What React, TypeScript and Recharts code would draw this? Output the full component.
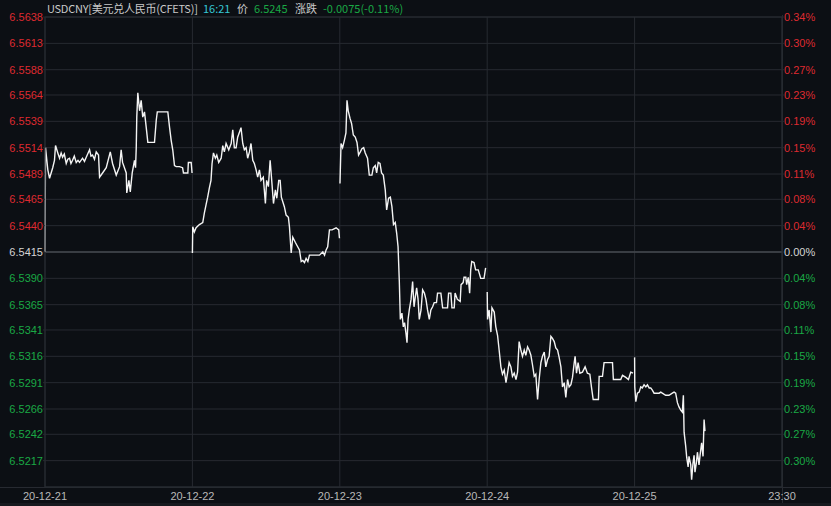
import { LineChart, Line, XAxis, YAxis, CartesianGrid, ReferenceLine } from "recharts";

const BG = "#0c0f14";
const GRID = "#272a31";
const RED = "#de2a30";
const GREEN = "#1aa845";
const NEUTRAL = "#d4d4d4";

// reference price (0.00%) and one gridline step
const BASE = 6.5415;
const STEP = 0.002478;
const SESSION = 840; // 09:30 - 23:30 in minutes

const PRICE_TICKS = [
  6.5638, 6.5613, 6.5588, 6.5564, 6.5539, 6.5514, 6.5489, 6.5465, 6.544, 6.5415,
  6.539, 6.5365, 6.5341, 6.5316, 6.5291, 6.5266, 6.5242, 6.5217,
];
const PCT_LABELS = [
  "0.34%", "0.30%", "0.27%", "0.23%", "0.19%", "0.15%", "0.11%", "0.08%", "0.04%", "0.00%",
  "0.04%", "0.08%", "0.11%", "0.15%", "0.19%", "0.23%", "0.27%", "0.30%",
];
const DAY_TICKS = [0, 1, 2, 3, 4, 5];
const DAY_LABELS = ["20-12-21", "20-12-22", "20-12-23", "20-12-24", "20-12-25", "23:30"];

// [minutes since open, price]
const DAY1: [number, number][] = [
  [0, 6.5415], [3, 6.5514], [16, 6.5493], [26, 6.5485], [35, 6.549], [44, 6.5495], [54, 6.5502],
  [60, 6.5516], [73, 6.5509], [83, 6.5504], [92, 6.5509], [100, 6.5505], [110, 6.5508], [121, 6.5499],
  [130, 6.5503], [140, 6.5504], [148, 6.5499], [157, 6.5502], [167, 6.5506], [178, 6.55], [188, 6.5502],
  [197, 6.55], [214, 6.5504], [225, 6.5501], [235, 6.5505], [254, 6.5512], [262, 6.5506], [271, 6.5507],
  [282, 6.5503], [292, 6.551], [305, 6.5507], [311, 6.5486], [328, 6.549], [349, 6.5495], [372, 6.551],
  [385, 6.5499], [406, 6.5488], [425, 6.5496], [434, 6.5512], [442, 6.55], [463, 6.549], [466, 6.5471],
  [478, 6.5483], [486, 6.5472], [497, 6.549], [510, 6.5502], [516, 6.5495], [520, 6.5514], [523, 6.5543],
  [529, 6.5566], [539, 6.5549], [548, 6.5559], [557, 6.5543], [567, 6.5548], [577, 6.5533], [586, 6.5519],
  [624, 6.5519], [634, 6.554], [640, 6.5548], [700, 6.5548], [710, 6.5533], [719, 6.5521], [728, 6.5512],
  [738, 6.5497], [748, 6.5496], [766, 6.5496], [784, 6.5495], [789, 6.549], [814, 6.549], [817, 6.55],
  [833, 6.55], [838, 6.549],
];
const DAY2: [number, number][] = [
  [0, 6.5414], [2, 6.5439], [11, 6.5434], [21, 6.5438], [40, 6.5441], [59, 6.5443], [68, 6.5452],
  [78, 6.546], [87, 6.5467], [97, 6.5476], [106, 6.5483], [112, 6.5499], [120, 6.5509], [131, 6.5504],
  [139, 6.5507], [150, 6.55], [164, 6.5504], [173, 6.5516], [182, 6.551], [192, 6.5518], [207, 6.5512],
  [221, 6.5518], [230, 6.5531], [239, 6.5514], [249, 6.5514], [258, 6.5524], [277, 6.5533], [287, 6.5518],
  [296, 6.5512], [306, 6.5514], [315, 6.5504], [325, 6.551], [334, 6.5518], [344, 6.5502], [353, 6.5499],
  [363, 6.5493], [372, 6.5486], [382, 6.5493], [391, 6.5483], [404, 6.5486], [416, 6.5461], [423, 6.5483],
  [433, 6.5477], [443, 6.5502], [452, 6.5483], [462, 6.5461], [473, 6.5474], [481, 6.5466], [492, 6.5483],
  [500, 6.5483], [507, 6.5467], [524, 6.5458], [534, 6.545], [547, 6.5448], [553, 6.5439], [563, 6.5414],
  [572, 6.5429], [587, 6.5424], [600, 6.542], [610, 6.5417], [620, 6.5406], [629, 6.5407], [639, 6.5405],
  [648, 6.5409], [658, 6.5406], [667, 6.5412], [686, 6.5412], [705, 6.5412], [724, 6.5412], [743, 6.5415],
  [753, 6.5412], [762, 6.5417], [771, 6.542], [781, 6.5436], [796, 6.5436], [819, 6.5438], [834, 6.5436],
  [838, 6.5428],
];
const DAY3: [number, number][] = [
  [1, 6.548], [7, 6.5518], [16, 6.5514], [26, 6.5521], [35, 6.5528], [41, 6.5559], [48, 6.5549],
  [58, 6.5542], [67, 6.5537], [77, 6.5526], [88, 6.5524], [98, 6.5519], [107, 6.5507], [117, 6.551],
  [126, 6.5513], [136, 6.5514], [145, 6.5509], [158, 6.5504], [168, 6.5488], [183, 6.5488], [191, 6.5495],
  [202, 6.5497], [210, 6.549], [219, 6.55], [229, 6.5499], [238, 6.549], [248, 6.5488], [259, 6.5474],
  [267, 6.5455], [278, 6.5466], [288, 6.5467], [297, 6.5458], [306, 6.5441], [316, 6.5443], [324, 6.5433],
  [332, 6.542], [339, 6.5388], [345, 6.5351], [354, 6.5357], [362, 6.5344], [369, 6.5348], [377, 6.5338],
  [383, 6.5329], [389, 6.5351], [396, 6.536], [406, 6.537], [415, 6.5387], [423, 6.5363], [430, 6.5372],
  [438, 6.5381], [446, 6.537], [453, 6.5351], [463, 6.536], [472, 6.5379], [482, 6.5376], [491, 6.537],
  [500, 6.536], [510, 6.5351], [519, 6.536], [529, 6.5363], [538, 6.5367], [551, 6.5367], [557, 6.5376],
  [576, 6.5376], [586, 6.5362], [614, 6.5362], [620, 6.5376], [633, 6.5376], [639, 6.5362], [652, 6.5362],
  [657, 6.5376], [670, 6.537], [686, 6.5368], [691, 6.5384], [703, 6.5386], [708, 6.5391], [718, 6.5391],
  [723, 6.5384], [732, 6.5391], [740, 6.5376], [746, 6.5398], [752, 6.5406], [765, 6.5405], [774, 6.5398],
  [789, 6.5398], [803, 6.539], [822, 6.539], [831, 6.54],
];
const DAY4: [number, number][] = [
  [0, 6.5377], [2, 6.5351], [11, 6.536], [21, 6.5339], [27, 6.5362], [40, 6.5358], [49, 6.5344],
  [59, 6.5336], [68, 6.5322], [78, 6.5306], [87, 6.5299], [97, 6.5303], [107, 6.5291], [116, 6.53],
  [125, 6.531], [135, 6.5306], [144, 6.5297], [154, 6.53], [164, 6.5294], [173, 6.5301], [182, 6.533],
  [192, 6.5322], [201, 6.5316], [211, 6.5322], [220, 6.5317], [230, 6.5325], [239, 6.5322], [249, 6.5317],
  [258, 6.5308], [268, 6.5297], [277, 6.5299], [287, 6.5275], [296, 6.5294], [306, 6.531], [315, 6.5316],
  [325, 6.532], [334, 6.5306], [344, 6.5313], [353, 6.5316], [363, 6.5335], [372, 6.5333], [382, 6.533],
  [391, 6.5324], [401, 6.5322], [410, 6.5315], [420, 6.5306], [429, 6.5287], [439, 6.5291], [448, 6.5277],
  [458, 6.5294], [467, 6.5287], [477, 6.5289], [486, 6.5296], [496, 6.531], [501, 6.5316], [509, 6.53],
  [518, 6.531], [528, 6.53], [543, 6.5301], [558, 6.5306], [571, 6.53], [585, 6.5299], [594, 6.5287],
  [604, 6.5275], [634, 6.5275], [638, 6.5297], [657, 6.5297], [666, 6.531], [714, 6.531], [719, 6.5294],
  [761, 6.5294], [771, 6.5298], [790, 6.5296], [805, 6.5294], [818, 6.5301], [831, 6.53],
];
const DAY5: [number, number][] = [
  [0, 6.5315], [1, 6.5287], [7, 6.5273], [16, 6.5281], [26, 6.5282], [35, 6.5287], [44, 6.5286],
  [54, 6.5289], [64, 6.5287], [73, 6.5289], [83, 6.5286], [92, 6.5286], [101, 6.5284], [111, 6.5281],
  [140, 6.5281], [149, 6.5282], [158, 6.5281], [177, 6.5279], [196, 6.5279], [215, 6.5281], [225, 6.5282],
  [234, 6.5281], [244, 6.5272], [253, 6.5268], [263, 6.5265], [272, 6.5263], [278, 6.5279], [282, 6.5244],
  [291, 6.5231], [297, 6.522], [305, 6.5211], [310, 6.5221], [320, 6.5213], [325, 6.5199], [333, 6.5215],
  [339, 6.5222], [344, 6.5206], [352, 6.5215], [358, 6.5225], [367, 6.5213], [373, 6.5222], [382, 6.5234],
  [390, 6.5221], [396, 6.5256], [401, 6.5245],
];

const DAYS = [DAY1, DAY2, DAY3, DAY4, DAY5];

// one row per minute sample; a null row after each day breaks the line between sessions
const data = DAYS.flatMap((day, d) => {
  const rows: { t: number; price: number | null }[] = day.map(([m, p]) => ({ t: d + m / SESSION, price: p }));
  rows.push({ t: rows[rows.length - 1].t, price: null });
  return rows;
});

const AXIS_FONT = "'Liberation Sans', Arial, sans-serif";

const priceColor = (v: number) =>
  v > BASE + 1e-6 ? RED : v < BASE - 1e-6 ? GREEN : NEUTRAL;

function LeftTick(props: any) {
  const { x, y, payload } = props;
  const v = payload.value as number;
  return (
    <text x={x} y={y} dy={4} textAnchor="end" fill={priceColor(v)} fontSize={11} fontFamily={AXIS_FONT}>
      {v.toFixed(4)}
    </text>
  );
}

function RightTick(props: any) {
  const { x, y, payload } = props;
  const v = payload.value as number;
  const i = PRICE_TICKS.indexOf(v);
  return (
    <text x={x} y={y} dy={4} textAnchor="start" fill={priceColor(v)} fontSize={11} fontFamily={AXIS_FONT}>
      {PCT_LABELS[i]}
    </text>
  );
}

function BottomTick(props: any) {
  const { x, y, payload } = props;
  const i = DAY_TICKS.indexOf(payload.value);
  return (
    <text x={x} y={y} dy="0.71em" textAnchor="middle" fill="#b8b8b8" fontSize={11} fontFamily={AXIS_FONT}>
      {DAY_LABELS[i]}
    </text>
  );
}

const headerStyle = {
  position: "absolute" as const,
  top: 1,
  fontSize: 11,
  lineHeight: "15px",
  fontFamily: "'Noto Sans CJK SC', 'Noto Sans', sans-serif",
  whiteSpace: "nowrap" as const,
};

export default function App() {
  return (
    <div style={{ position: "absolute", left: 0, top: 0, width: 831, height: 506, background: BG, overflow: "hidden" }}>
      <span style={{ ...headerStyle, left: 47, color: "#c9c9c9", letterSpacing: -0.25 }}>USDCNY[美元兑人民币(CFETS)]</span>
      <span style={{ ...headerStyle, left: 203, color: "#35c6d4" }}>16:21</span>
      <span style={{ ...headerStyle, left: 237, color: "#c9c9c9" }}>价</span>
      <span style={{ ...headerStyle, left: 254, color: GREEN }}>6.5245</span>
      <span style={{ ...headerStyle, left: 295, color: "#c9c9c9" }}>涨跌</span>
      <span style={{ ...headerStyle, left: 323, color: GREEN }}>-0.0075(-0.11%)</span>

      <div style={{ position: "absolute", left: 0, top: 487, width: 831, height: 1, background: GRID }} />
      <div style={{ position: "absolute", left: 782, top: 15, width: 1, height: 491, background: GRID }} />
      <div style={{ position: "absolute", left: 0, top: 503, width: 831, height: 3, background: "#16191e" }} />

      <div style={{ position: "absolute", left: 0, top: 0 }}>
        <LineChart width={831} height={506} data={data} margin={{ top: 17, right: 0, bottom: 0, left: 0 }}>
          <CartesianGrid yAxisId="left" stroke={GRID} strokeWidth={1} />
          <XAxis
            dataKey="t"
            type="number"
            domain={[0, 5]}
            ticks={DAY_TICKS}
            height={19}
            axisLine={{ stroke: GRID }}
            tickLine={false}
            tickSize={0}
            tickMargin={5}
            tick={<BottomTick />}
            interval={0}
          />
          <YAxis
            yAxisId="left"
            orientation="left"
            width={45}
            domain={[BASE - 9 * STEP, BASE + 9 * STEP]}
            ticks={PRICE_TICKS}
            interval={0}
            axisLine={{ stroke: GRID }}
            tickLine={{ stroke: GRID }}
            tickSize={2}
            tickMargin={0}
            tick={<LeftTick />}
          />
          <YAxis
            yAxisId="right"
            orientation="right"
            width={49}
            domain={[BASE - 9 * STEP, BASE + 9 * STEP]}
            ticks={PRICE_TICKS}
            interval={0}
            axisLine={{ stroke: GRID }}
            tickLine={{ stroke: GRID }}
            tickSize={2}
            tickMargin={0}
            tick={<RightTick />}
          />
          <ReferenceLine yAxisId="left" y={BASE} stroke="#45484f" strokeWidth={1.5} />
          <Line
            yAxisId="right"
            type="linear"
            dataKey="price"
            stroke="none"
            dot={false}
            isAnimationActive={false}
            legendType="none"
          />
          <Line
            yAxisId="left"
            type="linear"
            dataKey="price"
            stroke="#f4f4f4"
            strokeWidth={1.4}
            dot={false}
            connectNulls={false}
            isAnimationActive={false}
          />
        </LineChart>
      </div>
    </div>
  );
}
